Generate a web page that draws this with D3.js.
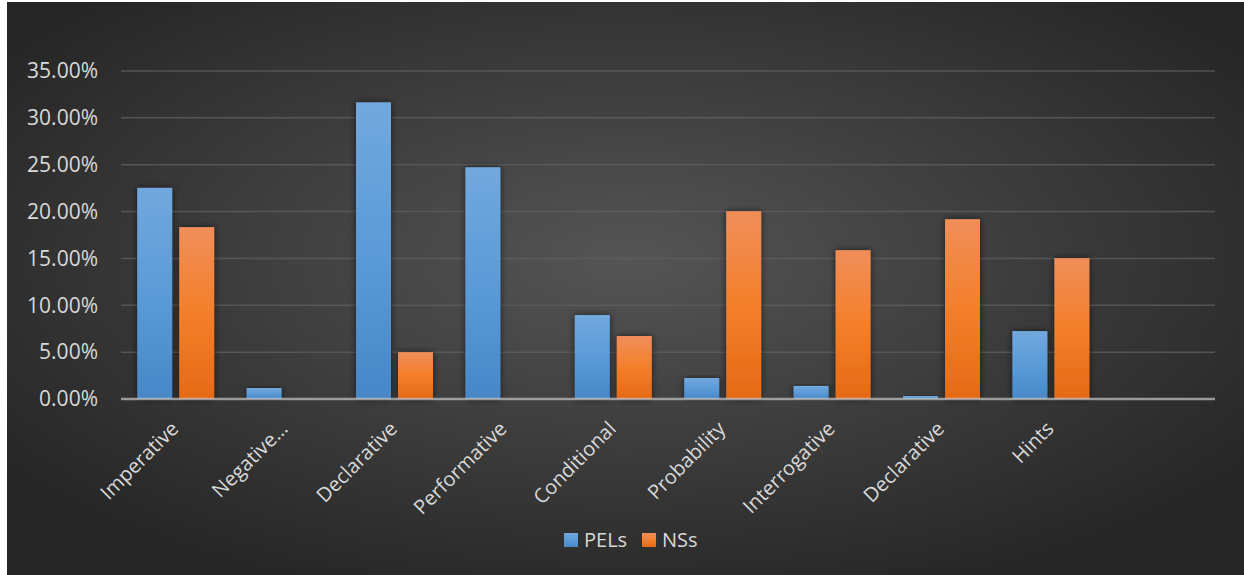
<!DOCTYPE html>
<html lang="en">
<head>
<meta charset="utf-8">
<title>PELs vs NSs</title>
<script src="https://cdn.jsdelivr.net/npm/d3@7"></script>
<style>
body { margin: 0; background: #fff; }
</style>
</head>
<body>
<script>
// chart data
var categories = ["Imperative", "Negative\u2026", "Declarative", "Performative", "Conditional",
                  "Probability", "Interrogative", "Declarative", "Hints", ""];
var pels = [0.2253, 0.0117, 0.3166, 0.2473, 0.0896, 0.0224, 0.0139, 0.0032, 0.0725, null];
var nss  = [0.1834, 0, 0.0500, 0, 0.0672, 0.2004, 0.1588, 0.1919, 0.1503, null];
var seriesNames = ["PELs", "NSs"];
var yTicks = [0, 0.05, 0.10, 0.15, 0.20, 0.25, 0.30, 0.35];

var w = 1244, h = 575;
var plotL = 121, plotR = 1215, plotT = 71, plotB = 399;

var svg = d3.select("body").append("svg")
  .attr("width", w).attr("height", h)
  .style("display", "block");

var defs = svg.append("defs");

// background radial gradient
var bg = defs.append("radialGradient").attr("id", "bg")
  .attr("cx", "50%").attr("cy", "45%").attr("r", "62%");
bg.append("stop").attr("offset", "0%").attr("stop-color", "#555555");
bg.append("stop").attr("offset", "100%").attr("stop-color", "#262626");

// bar gradients
function barGrad(id, c1, c2, c3) {
  var g = defs.append("linearGradient").attr("id", id)
    .attr("x1", 0).attr("y1", 0).attr("x2", 0).attr("y2", 1);
  g.append("stop").attr("offset", "0%").attr("stop-color", c1);
  g.append("stop").attr("offset", "50%").attr("stop-color", c2);
  g.append("stop").attr("offset", "100%").attr("stop-color", c3);
}
barGrad("gPELs", "#72a8de", "#5b9bd8", "#4787c8");
barGrad("gNSs", "#f08e5a", "#f47f2a", "#e56a16");

var sh = defs.append("filter").attr("id", "shadow")
  .attr("x", "-30%").attr("y", "-10%").attr("width", "160%").attr("height", "120%");
sh.append("feDropShadow").attr("dx", 0).attr("dy", 0)
  .attr("stdDeviation", 3.5).attr("flood-color", "#000").attr("flood-opacity", 0.6);

svg.append("rect")
  .attr("x", 7).attr("y", 2)
  .attr("width", w - 7).attr("height", h - 2)
  .attr("fill", "url(#bg)");

// scales
var x0 = d3.scaleBand()
  .domain(d3.range(categories.length))
  .range([plotL, plotR]);
var x1 = d3.scaleBand()
  .domain(seriesNames)
  .range([0, x0.bandwidth()])
  .paddingInner(0.1667)
  .paddingOuter(0.386);
var y = d3.scaleLinear().domain([0, 0.35]).range([plotB, plotT]);
var color = { PELs: "url(#gPELs)", NSs: "url(#gNSs)" };

// gridlines
svg.append("g")
  .selectAll("line")
  .data(yTicks.slice(1))
  .enter().append("line")
  .attr("x1", plotL).attr("x2", plotR)
  .attr("y1", function(d) { return y(d); })
  .attr("y2", function(d) { return y(d); })
  .attr("stroke", "#5e5e5e")
  .attr("stroke-opacity", 0.8)
  .attr("stroke-width", 1.5);

// y axis labels
var yAxis = d3.axisLeft(y).tickValues(yTicks).tickFormat(d3.format(".2%")).tickSize(0).tickPadding(23);
var ya = svg.append("g").attr("transform", "translate(" + plotL + ",0)").call(yAxis);
ya.select(".domain").remove();
ya.selectAll("text")
  .attr("fill", "#d9d9d9")
  .attr("font-family", "'Open Sans', sans-serif")
  .attr("font-size", "21px");

// bars
var rows = categories.map(function(c, i) {
  return { i: i, vals: [{ k: "PELs", v: pels[i] }, { k: "NSs", v: nss[i] }] };
});
var groups = svg.append("g").selectAll("g")
  .data(rows)
  .enter().append("g")
  .attr("transform", function(d) { return "translate(" + x0(d.i) + ",0)"; });
groups.selectAll("rect")
  .data(function(d) { return d.vals.filter(function(e) { return e.v; }); })
  .enter().append("rect")
  .attr("x", function(d) { return x1(d.k); })
  .attr("y", function(d) { return y(d.v); })
  .attr("width", x1.bandwidth())
  .attr("height", function(d) { return y(0) - y(d.v); })
  .attr("fill", function(d) { return color[d.k]; })
  .attr("filter", "url(#shadow)");

// baseline
svg.append("line")
  .attr("x1", plotL).attr("x2", plotR)
  .attr("y1", y(0)).attr("y2", y(0))
  .attr("stroke", "#c8c8c8")
  .attr("stroke-opacity", 0.7)
  .attr("stroke-width", 2.5);

// category labels (rotated)
var xAxis = d3.axisBottom(x0).tickFormat(function(i) { return categories[i]; }).tickSize(0);
var xa = svg.append("g").attr("transform", "translate(0," + plotB + ")").call(xAxis);
xa.select(".domain").remove();
xa.selectAll("text")
  .attr("fill", "#d9d9d9")
  .attr("font-family", "'Open Sans', sans-serif")
  .attr("font-size", "20px")
  .attr("text-anchor", "end")
  .attr("dy", null)
  .attr("y", 0)
  .attr("transform", "translate(4,31) rotate(-45)");

// legend
var legend = svg.append("g").attr("transform", "translate(564,533)");
var items = legend.selectAll("g")
  .data(seriesNames)
  .enter().append("g")
  .attr("transform", function(d, i) { return "translate(" + (i * 78) + ",0)"; });
items.append("rect")
  .attr("width", 14).attr("height", 14)
  .attr("fill", function(d) { return color[d]; });
items.append("text")
  .attr("x", 20).attr("y", 14)
  .attr("fill", "#d9d9d9")
  .attr("font-family", "'Open Sans', sans-serif")
  .attr("font-size", "20px")
  .text(function(d) { return d; });
</script>
</body>
</html>
